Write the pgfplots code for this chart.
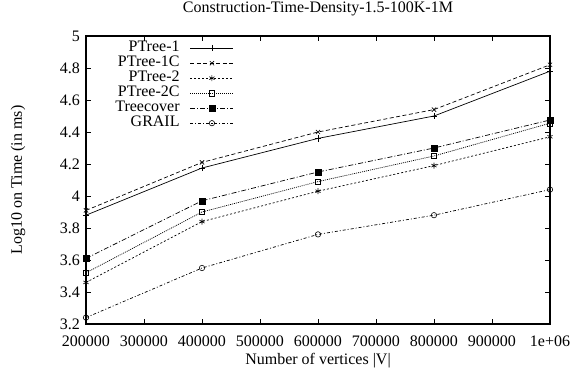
\documentclass[border=0pt]{standalone}
\usepackage{fontspec}
\setmainfont{Liberation Serif}
\usepackage{pgfplots}
\pgfplotsset{compat=1.18}
\begin{document}
\begin{tikzpicture}
\useasboundingbox (-86bp,-49bp) rectangle (485bp,324bp);
\begin{axis}[
  scale only axis, width=464bp, height=288bp,
  font=\fontsize{16bp}{19bp}\selectfont,
  /pgf/number format/assume math mode=true,
  xmin=200000, xmax=1000000, ymin=3.2, ymax=5,
  xtick={200000,300000,400000,500000,600000,700000,800000,900000,1000000},
  xticklabels={200000,300000,400000,500000,600000,700000,800000,900000,1e+06},
  scaled x ticks=false,
  ytick={3.2,3.4,3.6,3.8,4,4.2,4.4,4.6,4.8,5},
  yticklabels={3.2,3.4,3.6,3.8,4,4.2,4.4,4.6,4.8,5},
  tick align=inside, major tick length=5bp,
  axis line style={line width=1.1bp},
  every tick/.style={black, line width=0.6bp},
  xticklabel style={anchor=center, yshift=-17bp},
  yticklabel style={anchor=east, inner sep=0pt, xshift=-6bp},
  title={Construction-Time-Density-1.5-100K-1M},
  title style={at={(axis description cs:0.5,1.074)}, anchor=center, inner sep=1bp},
  xlabel={Number of vertices |V|},
  xlabel style={at={(axis description cs:0.5,-0.128)}, anchor=center},
  ylabel={Log10 on Time (in ms)},
  ylabel style={at={(axis description cs:-0.1466,0.5)}, anchor=center, rotate=0},
  legend plot pos=right,
  legend cell align=right,
  legend image code/.code={\path (0bp,0bp); \draw[mark repeat=2,mark phase=2,#1] plot coordinates {(10bp,0bp) (31.5bp,0bp) (53bp,0bp)};},
  legend style={draw=none, fill=none, at={(axis description cs:0.3254,0.9896)}, anchor=north east,
    row sep=1bp, nodes={inner sep=0.5bp, text height=10bp, text depth=3bp}},
  every axis plot/.append style={line width=0.7bp, black, mark options={solid, line width=0.6bp}},
]
\addplot[mark=+, mark size=3.2bp] coordinates {(200000,3.88) (400000,4.175) (600000,4.36) (800000,4.50) (1000000,4.78)};
\addlegendentry{PTree-1}
\addplot[dash pattern=on 4bp off 2.5bp, mark=x, mark size=3bp] coordinates {(200000,3.91) (400000,4.21) (600000,4.40) (800000,4.54) (1000000,4.82)};
\addlegendentry{PTree-1C}
\addplot[dash pattern=on 2bp off 2bp, mark=asterisk, mark size=3bp] coordinates {(200000,3.46) (400000,3.84) (600000,4.03) (800000,4.19) (1000000,4.37)};
\addlegendentry{PTree-2}
\addplot[dash pattern=on 1bp off 1bp, mark=square, mark size=2.7bp] coordinates {(200000,3.52) (400000,3.90) (600000,4.09) (800000,4.25) (1000000,4.455)};
\addlegendentry{PTree-2C}
\addplot[dash pattern=on 5bp off 2bp on 1bp off 2bp, mark=square*, mark size=3bp] coordinates {(200000,3.61) (400000,3.97) (600000,4.15) (800000,4.30) (1000000,4.475)};
\addlegendentry{Treecover}
\addplot[dash pattern=on 3bp off 2bp on 1bp off 2bp, mark=o, mark size=2.7bp] coordinates {(200000,3.24) (400000,3.55) (600000,3.76) (800000,3.88) (1000000,4.04)};
\addlegendentry{GRAIL}
\end{axis}
\end{tikzpicture}
\end{document}
